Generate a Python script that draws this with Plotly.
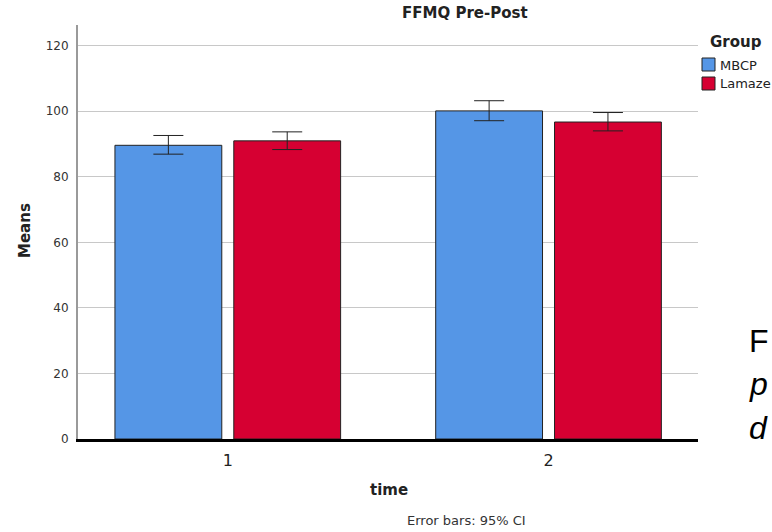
import plotly.graph_objects as go

# ---- data ----
time_points = ["1", "2"]
group_names = ["MBCP", "Lamaze"]
mbcp_means = [89.6, 100.1]
lamaze_means = [90.95, 96.7]
mbcp_ci_upper = [92.6, 103.2]
mbcp_ci_lower = [86.9, 97.1]
lamaze_ci_upper = [93.7, 99.6]
lamaze_ci_lower = [88.3, 94.0]
y_ticks = [0, 20, 40, 60, 80, 100, 120]

BLUE = "#5596E6"
RED = "#D60032"
FONT = "DejaVu Sans"

fig = go.Figure()
series = [
    (group_names[0], mbcp_means, mbcp_ci_upper, mbcp_ci_lower, BLUE),
    (group_names[1], lamaze_means, lamaze_ci_upper, lamaze_ci_lower, RED),
]
for name, means, up, lo, col in series:
    fig.add_trace(go.Bar(
        x=[1, 2], y=means, name=name,
        marker=dict(color=col, line=dict(color="#222222", width=1)),
        error_y=dict(type="data", symmetric=False,
                     array=[u - m for u, m in zip(up, means)],
                     arrayminus=[m - l for m, l in zip(means, lo)],
                     color="#222222", thickness=1, width=15),
        showlegend=False,
    ))

fig.update_layout(
    width=772, height=532,
    margin=dict(l=78, r=74, t=25, b=93),
    paper_bgcolor="white", plot_bgcolor="white",
    barmode="group", bargap=0.259, bargroupgap=0.101,
    font=dict(family=FONT, color="#222222"),
    xaxis=dict(range=[0.533, 2.466], tickvals=[1, 2], ticktext=time_points,
               showgrid=False, showline=True, linecolor="black", linewidth=3,
               zeroline=False, tickfont=dict(size=16, color="#222222"),
               ticklabelstandoff=5),
    yaxis=dict(range=[0, 126.3], tickvals=y_ticks, showgrid=True,
               gridcolor="#c8c8c8", gridwidth=1, zeroline=False,
               showline=True, linecolor="#9a9a9a", linewidth=2,
               tickfont=dict(size=12, color="#333333"), ticklabelstandoff=5),
)

L, R, T, B = 78, 698, 25, 439
pw, ph = R - L, B - T

def px(x):
    return (x - L) / pw

def py(y):
    return (B - y) / ph

annotations = [
    dict(text="<b>FFMQ Pre-Post</b>", x=px(465), y=py(13), font=dict(size=15)),
    dict(text="<b>Means</b>", x=px(25), y=py(231), textangle=-90, font=dict(size=15)),
    dict(text="<b>time</b>", x=px(389), y=py(490), font=dict(size=15)),
    dict(text="Error bars: 95% CI", x=px(466), y=py(520), font=dict(size=13, color="#333333")),
    dict(text="<b>Group</b>", x=px(736), y=py(42), font=dict(size=15)),
    dict(text=group_names[0], x=px(718), y=py(65), xanchor="left", font=dict(size=13)),
    dict(text=group_names[1], x=px(718), y=py(84), xanchor="left", font=dict(size=13)),
    dict(text="F", x=px(747), y=py(341), xanchor="left", font=dict(size=32, family="Liberation Sans", color="black")),
    dict(text="<i>p</i>", x=px(747), y=py(384), xanchor="left", font=dict(size=32, family="Liberation Sans", color="black")),
    dict(text="<i>d</i>", x=px(747), y=py(428), xanchor="left", font=dict(size=32, family="Liberation Sans", color="black")),
]
for a in annotations:
    a.setdefault("xanchor", "center")
    fig.add_annotation(xref="paper", yref="paper", yanchor="middle", showarrow=False, **a)

for yc, col in [(65, BLUE), (84, RED)]:
    fig.add_shape(type="rect", xref="paper", yref="paper",
                  x0=px(702), x1=px(715), y0=py(yc - 7), y1=py(yc + 6),
                  fillcolor=col, line=dict(color="#222222", width=1))

fig.write_html("out.html")
